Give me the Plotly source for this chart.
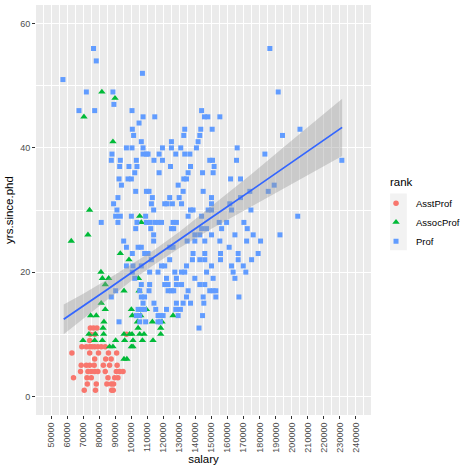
import numpy as np
import plotly.graph_objects as go

# salaries in thousands of dollars, one row per value of yrs.since.phd
asst_yrs = [11, 10, 9, 8, 7, 6, 5, 4, 3, 2, 1]
asst_salary_k = [
    [74.4, 76.4, 78.5],
    [74.4, 77.2, 96.9],
    [74.0],
    [69.1, 71.9, 74.0, 75.4, 77.1, 79.1, 81.2, 83.7],
    [62.9, 74.0, 79.5, 85.7, 90.8],
    [77.1, 84.0, 87.4],
    [68.7, 71.9, 74.0, 76.8, 82.5, 86.4, 91.1],
    [68.3, 72.9, 75.0, 77.1, 79.1, 83.7, 90.6, 92.7, 94.8],
    [63.9, 72.3, 75.0, 85.4, 89.6, 91.6],
    [72.5, 78.1, 84.7, 87.5, 88.9],
    [70.6, 77.6, 87.7, 88.7],
]

assoc_yrs = [49, 48, 45, 41, 30, 29, 28, 26, 25, 23, 22, 20, 19, 18, 17,
             15, 14, 13, 12, 11, 10, 9, 8, 6]
assoc_salary_k = [
    [81.6], [89.8], [70.4], [88.5], [73.9], [105.2], [106.2], [72.9],
    [62.5], [93.1], [98.5], [81.0],
    [81.9, 85.8, 104.4],
    [83.7],
    [95.4, 104.8],
    [81.2],
    [83.7, 100.0, 109.4],
    [74.6, 78.1, 100.6, 105.8, 126.0],
    [82.9, 103.8, 113.1, 119.1],
    [82.3, 104.2, 118.3],
    [73.5, 77.5, 82.7, 95.4, 98.9, 100.4, 105.2, 107.9, 118.3],
    [69.8, 77.1, 81.9, 90.2, 95.8, 101.0, 106.9, 113.5],
    [86.4, 88.5, 100.0, 101.0],
    [95.4, 97.2],
]

prof_yrs = [56, 54, 52, 51, 49, 47, 46, 45, 44, 43, 42, 41, 40, 39, 38, 37,
            36, 35, 34, 33, 32, 31, 30, 29, 28, 27, 26, 25, 24, 23, 22, 21,
            20, 19, 18, 17, 16, 15, 14, 13, 12, 11]
prof_salary_k = [
    [76.4, 186.4],
    [78.1],
    [106.9],
    [57.3],
    [71.9, 88.5, 191.6],
    [89.1],
    [67.3, 77.1, 100.4, 143.8],
    [107.3, 114.6, 145.6, 147.7, 155.2],
    [104.8],
    [100.6, 133.3, 143.3, 150.4, 205.2],
    [101.4, 132.7, 142.7, 194.3],
    [106.2, 125.0, 141.6],
    [96.9, 100.4, 107.3, 119.4, 125.0, 130.8, 140.6, 166.0],
    [87.9, 107.3, 109.4, 110.4, 117.3, 127.7, 133.3, 136.5, 183.3],
    [87.5, 93.1, 103.1, 114.1, 119.4, 148.9, 150.6, 165.6, 231.3],
    [92.7, 98.5, 103.5, 124.4, 136.9, 151.6],
    [102.1, 117.3, 135.4, 144.4, 151.0],
    [92.3, 97.9, 100.0, 132.7, 134.4, 161.9, 168.1],
    [93.8, 129.2, 189.1],
    [102.7, 109.4, 111.0, 132.3, 144.8, 173.9, 185.4],
    [91.6, 113.1, 123.9, 129.8, 150.0, 168.1],
    [88.9, 112.5, 120.8, 122.3, 125.6, 131.3, 150.0, 161.4],
    [91.0, 113.9, 136.9, 138.5, 147.9, 150.0, 162.5, 174.6],
    [90.2, 93.1, 100.0, 108.9, 135.4, 143.8, 203.8],
    [81.2, 91.6, 103.5, 109.4, 111.4, 114.6, 116.6, 118.8, 126.0, 128.1,
     154.8, 159.4, 170.2],
    [102.7, 112.1, 125.0, 126.4, 143.8, 146.9, 156.3, 172.3],
    [113.9, 139.6, 142.7, 150.0, 164.6, 176.0, 192.7],
    [95.2, 113.9, 134.8, 139.6, 145.8, 155.2, 171.9, 180.6],
    [96.9, 104.2, 106.2, 123.9, 126.0, 161.0],
    [100.6, 108.3, 110.4, 138.5, 145.8, 155.6, 166.6, 179.1],
    [112.5, 123.9, 138.1, 142.7, 145.8, 155.6, 166.6, 175.0],
    [96.9, 101.0, 106.2, 118.8, 120.8, 134.4, 150.0, 162.5, 169.8],
    [100.6, 111.4, 116.6, 127.1, 131.3, 133.3, 146.9, 163.5, 171.4],
    [102.1, 121.9, 128.1, 139.6, 151.0, 164.6],
    [106.2, 111.4, 120.8, 122.9, 128.1, 131.3, 142.7, 145.8],
    [90.2, 105.2, 111.0, 122.9, 125.0, 126.4, 135.4, 148.9, 151.0, 152.7],
    [87.5, 106.2, 108.3, 134.4, 144.8, 152.7, 167.1],
    [107.3, 114.1, 128.1, 132.3, 136.9, 145.2],
    [104.2, 106.2, 108.3, 115.2, 121.9, 127.7, 130.6],
    [103.1, 105.2, 116.6, 118.1, 119.8, 129.2, 144.4],
    [92.3, 105.2, 108.9, 116.6, 118.1],
    [142.2],
]

# geom_smooth(method = "lm") curve and 95% band
smooth_salary = [57800, 70000, 85000, 100000, 113700, 130000, 150000,
                 175000, 200000, 231500]
smooth_fit = [12.4, 14.5, 17.2, 19.9, 22.3, 25.2, 28.8, 33.2, 37.7, 43.3]
smooth_halfwidth = [2.4, 2.0, 1.6, 1.3, 1.2, 1.3, 1.8, 2.6, 3.5, 4.6]


def flatten(yrs, rows):
    xs, ys = [], []
    for y, row in zip(yrs, rows):
        for s in row:
            xs.append(s * 1000)
            ys.append(y)
    return xs, ys


groups = [
    ("AsstProf", asst_yrs, asst_salary_k, "#F8766D", "circle", 5.5),
    ("AssocProf", assoc_yrs, assoc_salary_k, "#00BA38", "triangle-up", 6.5),
    ("Prof", prof_yrs, prof_salary_k, "#619CFF", "square", 5),
]

fig = go.Figure()
for name, yrs, rows, col, sym, size in groups:
    x, y = flatten(yrs, rows)
    fig.add_trace(go.Scatter(x=x, y=y, mode="markers", name=name,
                             marker=dict(color=col, symbol=sym, size=size,
                                         line=dict(width=0))))

sx = np.array(smooth_salary)
fit = np.array(smooth_fit)
hw = np.array(smooth_halfwidth)
fig.add_trace(go.Scatter(x=np.concatenate([sx, sx[::-1]]),
                         y=np.concatenate([fit + hw, (fit - hw)[::-1]]),
                         fill="toself", fillcolor="rgba(153,153,153,0.4)",
                         line=dict(width=0), mode="lines",
                         hoverinfo="skip", showlegend=False))
fig.add_trace(go.Scatter(x=sx, y=fit, mode="lines",
                         line=dict(color="#3366FF", width=1.8),
                         showlegend=False))

axis_common = dict(
    showgrid=True, gridcolor="white", gridwidth=1.1, zeroline=False,
    showline=False, ticks="outside", ticklen=3, tickcolor="#333333",
    tickfont=dict(size=9, color="#4D4D4D"),
)
fig.update_xaxes(range=[40500, 249500], tick0=50000, dtick=10000,
                 tickformat="d", tickangle=-90,
                 minor=dict(dtick=5000, tick0=45000, showgrid=True,
                            gridcolor="white", gridwidth=0.55, ticks=""),
                 title=dict(text="salary", font=dict(size=11.5, color="black"),
                            standoff=0),
                 **axis_common)
fig.update_yaxes(range=[-3, 63], tick0=0, dtick=20,
                 minor=dict(dtick=10, showgrid=True, gridcolor="white",
                            gridwidth=0.55, ticks=""),
                 title=dict(text="yrs.since.phd",
                            font=dict(size=11.5, color="black"), standoff=4),
                 **axis_common)

# grey legend key backgrounds, as ggplot draws them
fig.add_shape(type="rect", xref="paper", yref="paper",
              x0=1.057, x1=1.107, y0=0.402, y1=0.540,
              fillcolor="#F2F2F2", line=dict(width=0), layer="below")
fig.add_annotation(text="rank", xref="paper", yref="paper", x=1.051,
                   y=0.569, xanchor="left", yanchor="middle",
                   showarrow=False, font=dict(size=11.5, color="black"))

fig.update_layout(
    width=474, height=474,
    margin=dict(l=36, r=103, t=5, b=59),
    plot_bgcolor="#EBEBEB", paper_bgcolor="white",
    font=dict(family="Liberation Sans", color="black"),
    legend=dict(font=dict(size=9.5), x=1.015, xanchor="left",
                y=0.552, yanchor="top", itemsizing="trace", itemwidth=30,
                bgcolor="rgba(0,0,0,0)"),
)

fig.write_html("out.html", config={"displayModeBar": False},
               post_script="document.body.style.margin='0';")
